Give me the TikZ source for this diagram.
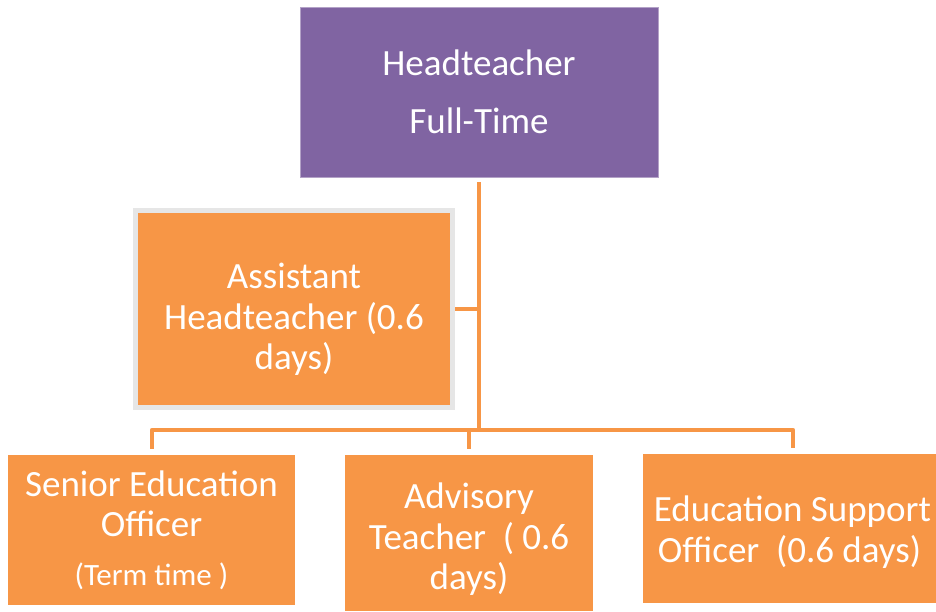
\documentclass[tikz,border=0pt]{standalone}
\usepackage{fontspec}
\setmainfont{Carlito}
\usepackage{tikz}
\usetikzlibrary{positioning,calc}

\definecolor{hpurple}{HTML}{8064A2}
\definecolor{sorange}{HTML}{F79646}
\definecolor{edgegrey}{HTML}{E6E6E6}

% invisible strut to push a node's text down a little
\newcommand{\toppad}[1]{\rule{0pt}{#1}}

\begin{document}
\begin{tikzpicture}[
  x=1pt, y=-1pt,
  font=\fontsize{37}{40.5}\selectfont,
  headcell/.style={draw=hpurple!60!white, line width=0.8pt, fill=hpurple, text=white, inner sep=0pt, align=center},
  staffcell/.style={fill=sorange, text=white, inner sep=0pt, align=center},
  link/.style={draw=sorange, line width=4.5pt, line join=round}
]
\useasboundingbox (0,0) rectangle (936,611);

% top of the tree
\node[headcell, minimum width=358pt, minimum height=170pt] (head) at (479,92) {Headteacher\\[17pt]Full-Time};

% deputy hanging off the trunk
\node[staffcell, draw=edgegrey, line width=5pt, minimum width=317pt, minimum height=197pt] (asst) at (294,309) {\toppad{46pt}Assistant\\Headteacher (0.6\\days)};

% bottom row
\node[staffcell, minimum width=287pt, minimum height=150pt] (seo) at (151.5,530) {Senior Education\\Officer\\[8pt]{\fontsize{31}{34}\selectfont(Term time )}};
\node[staffcell, minimum width=248pt, minimum height=156pt] (adv) at (469,533) {\toppad{38pt}Advisory\\Teacher\ \ ( 0.6\\days)};
\node[staffcell, minimum width=293pt, minimum height=149pt] (eso) at (789.5,528.5) {\toppad{33pt}\hspace*{6pt}Education Support\\Officer\ \ (0.6 days)};

\coordinate (bus) at (479,430);

% connectors
\draw[link] ([yshift=-5pt]head.south) -- (bus);
\draw[link] (asst.east) -- (asst.east -| bus);
\draw[link] ([xshift=0.5pt, yshift=6pt]seo.north) -- ([xshift=0.5pt]seo.north |- bus) -- ([xshift=3.5pt]eso.north |- bus) -- ([xshift=3.5pt, yshift=6pt]eso.north);
\draw[link] ([yshift=6pt]adv.north) -- (adv.north |- bus);
\end{tikzpicture}
\end{document}
